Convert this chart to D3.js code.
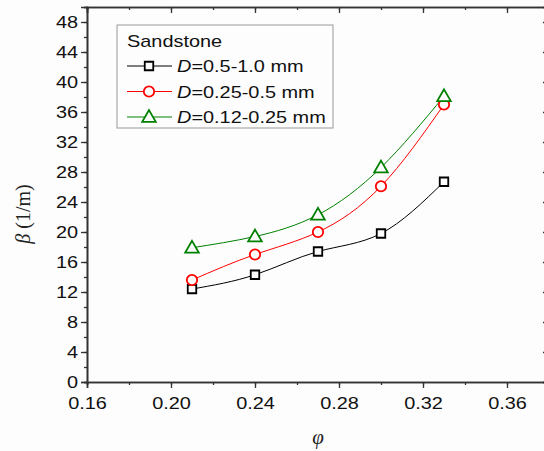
<!DOCTYPE html>
<html>
<head>
<meta charset="utf-8">
<script src="https://cdn.jsdelivr.net/npm/d3@7"></script>
<style>
  body { margin: 0; background: #fdfdfd; }
  svg { display: block; }
</style>
</head>
<body>
<div id="graph"></div>
<script>
// porosity values (x)
const phi = [0.21, 0.24, 0.27, 0.30, 0.33];

// beta (1/m) per grain size
const coarse = [12.4, 14.3, 17.4, 19.8, 26.7];
const medium = [13.6, 17.0, 20.0, 26.1, 37.0];
const fine   = [17.9, 19.4, 22.3, 28.6, 38.1];

const seriesNames = ['0.5-1.0 mm', '0.25-0.5 mm', '0.12-0.25 mm'];
const seriesColors = ['#000000', '#ff0000', '#008000'];
const seriesSymbols = ['square', 'circle', 'triangle'];

const xTicks = [0.16, 0.20, 0.24, 0.28, 0.32, 0.36];
const yTicks = [0, 4, 8, 12, 16, 20, 24, 28, 32, 36, 40, 44, 48];

var width = 544, height = 451;
var pLeft = 87, pRight = 549, pTop = 7, pBottom = 382;
var stretch = 1.17; // text in the picture is a bit wide

var x = d3.scaleLinear().domain([0.16, 0.38]).range([pLeft, pRight]);
var y = d3.scaleLinear().domain([0, 50]).range([pBottom, pTop]);

var svg = d3.select('#graph')
            .append('svg')
            .attr('width', width)
            .attr('height', height)
            .style('font-family', 'Liberation Sans, Arial, sans-serif');

svg.append('rect')
   .attr('width', width)
   .attr('height', height)
   .attr('fill', '#fdfdfd');

var axisColor = '#333';

var xMinor = d3.range(0.16, 0.381, 0.02);
var yMinor = d3.range(0, 50.1, 2);

// bottom + left axes, outward ticks
svg.append('g').attr('transform', 'translate(0,' + pBottom + ')')
  .call(d3.axisBottom(x).tickValues(xMinor).tickSize(3).tickFormat(''));
var gx = svg.append('g').attr('class', 'lab').attr('transform', 'translate(0,' + pBottom + ')')
  .call(d3.axisBottom(x).tickValues(xTicks).tickSize(6).tickPadding(9).tickFormat(d3.format('.2f')));

svg.append('g').attr('transform', 'translate(' + pLeft + ',0)')
  .call(d3.axisLeft(y).tickValues(yMinor).tickSize(3).tickFormat(''));
var gy = svg.append('g').attr('class', 'lab').attr('transform', 'translate(' + pLeft + ',0)')
  .call(d3.axisLeft(y).tickValues(yTicks).tickSize(6).tickPadding(6).tickFormat(d3.format('d')));

// top + right axes, inward ticks
svg.append('g').attr('transform', 'translate(0,' + pTop + ')')
  .call(d3.axisBottom(x).tickValues(xMinor).tickSize(3).tickFormat(''));
svg.append('g').attr('transform', 'translate(0,' + pTop + ')')
  .call(d3.axisBottom(x).tickValues(xTicks).tickSize(6).tickFormat(''));
svg.append('g').attr('transform', 'translate(' + pRight + ',0)')
  .call(d3.axisLeft(y).tickValues(yMinor).tickSize(3).tickFormat(''));
svg.append('g').attr('transform', 'translate(' + pRight + ',0)')
  .call(d3.axisLeft(y).tickValues(yTicks).tickSize(6).tickFormat(''));

svg.selectAll('.domain').attr('stroke', axisColor).attr('stroke-width', 1.6);
svg.selectAll('.tick line').attr('stroke', axisColor).attr('stroke-width', 1.3);
svg.selectAll('.lab .tick text')
   .attr('fill', '#111')
   .style('font-size', '17px')
   .style('font-family', 'Liberation Sans, Arial, sans-serif');
gx.selectAll('.tick text').attr('transform', 'scale(' + stretch + ',1)');
gy.selectAll('.tick text')
  .attr('x', -9 / stretch)
  .attr('transform', 'scale(' + stretch + ',1)');

// axis titles
svg.append('text')
   .attr('x', (pLeft + pRight) / 2)
   .attr('y', 444)
   .attr('text-anchor', 'middle')
   .style('font-family', 'Liberation Serif, Times New Roman, serif')
   .style('font-style', 'italic')
   .style('font-size', '21px')
   .attr('fill', '#222')
   .text('φ');

var yt = svg.append('text')
   .attr('transform', 'translate(30,214) rotate(-90)')
   .attr('text-anchor', 'middle')
   .style('font-family', 'Liberation Serif, Times New Roman, serif')
   .style('font-size', '20px')
   .attr('fill', '#222');
yt.append('tspan').style('font-style', 'italic').text('β');
yt.append('tspan').text(' (1/m)');

// curves
var allSeries = [coarse, medium, fine];
var line = d3.line()
  .x((d, i) => x(phi[i]))
  .y(d => y(d))
  .curve(d3.curveNatural);

var sym = {
  square: d3.symbol().type(d3.symbolSquare).size(72),
  circle: d3.symbol().type(d3.symbolCircle).size(85),
  triangle: d3.symbol().type(d3.symbolTriangle).size(80)
};

allSeries.forEach(function(vals, k) {
  svg.append('path')
     .attr('d', line(vals))
     .attr('fill', 'none')
     .attr('stroke', seriesColors[k])
     .attr('stroke-width', 1);
});

allSeries.forEach(function(vals, k) {
  svg.selectAll('.m' + k)
     .data(vals)
     .enter()
     .append('path')
     .attr('transform', (d, i) => 'translate(' + x(phi[i]) + ',' + (y(d) + (k == 2 ? 1 : 0)) + ')')
     .attr('d', sym[seriesSymbols[k]]())
     .attr('fill', '#fdfdfd')
     .attr('stroke', seriesColors[k])
     .attr('stroke-width', 1.8);
});

// legend
var lg = svg.append('g');
lg.append('rect')
  .attr('x', 117).attr('y', 25)
  .attr('width', 216).attr('height', 103)
  .attr('fill', '#fdfdfd')
  .attr('stroke', '#999')
  .attr('stroke-width', 1);

lg.append('text')
  .attr('transform', 'translate(127,47) scale(' + stretch + ',1)')
  .style('font-size', '17px')
  .attr('fill', '#111')
  .text('Sandstone');

seriesNames.forEach(function(name, k) {
  var cy = 66 + k * 25.5;
  lg.append('line')
    .attr('x1', 127).attr('x2', 172)
    .attr('y1', cy).attr('y2', cy)
    .attr('stroke', seriesColors[k])
    .attr('stroke-width', 1);
  lg.append('path')
    .attr('transform', 'translate(149,' + (cy + (k == 2 ? 1 : 0)) + ')')
    .attr('d', sym[seriesSymbols[k]]())
    .attr('fill', '#fdfdfd')
    .attr('stroke', seriesColors[k])
    .attr('stroke-width', 1.8);
  var t = lg.append('text')
    .attr('transform', 'translate(177,' + (cy + 6) + ') scale(' + stretch + ',1)')
    .style('font-size', '17px')
    .attr('fill', '#111');
  t.append('tspan').style('font-style', 'italic').text('D');
  t.append('tspan').text('=' + name);
});
</script>
</body>
</html>
